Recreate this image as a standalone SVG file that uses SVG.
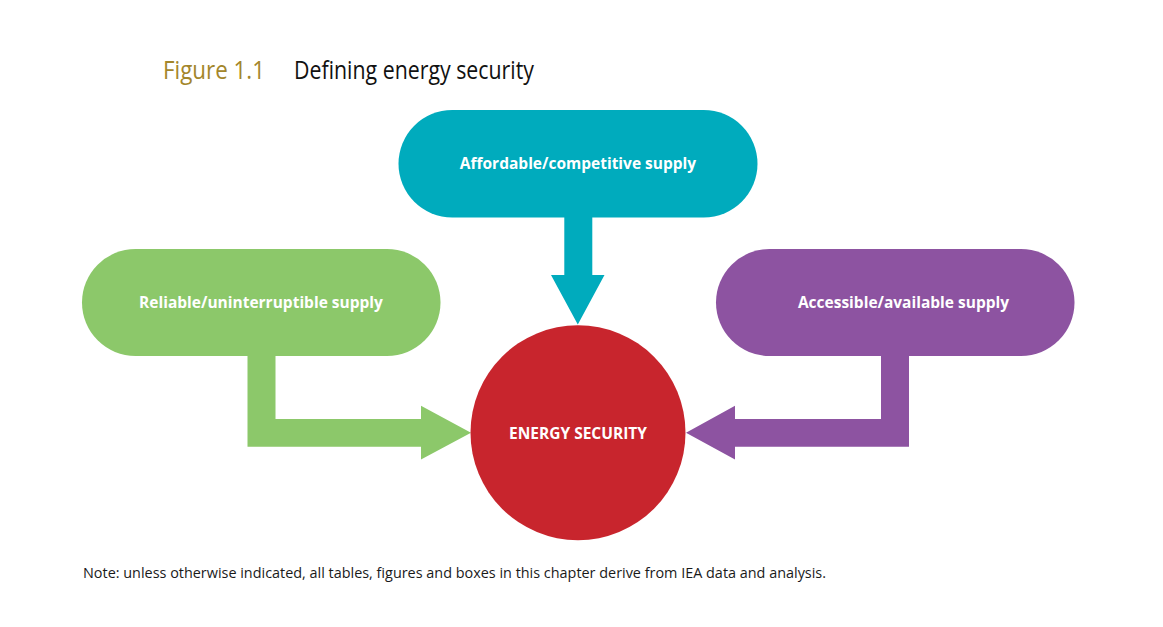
<svg xmlns="http://www.w3.org/2000/svg" width="1163" height="627" viewBox="0 0 1163 627">
<style>
.lbl{font-family:"Open Sans","Liberation Sans",sans-serif;font-weight:bold;font-size:15.5px;fill:#ffffff;text-anchor:middle;dominant-baseline:central}
.title{font-family:"Open Sans","Liberation Sans",sans-serif;font-size:25px}
.note{font-family:"Open Sans","Liberation Sans",sans-serif;font-size:14px;fill:#1a1a1a}
</style>
<rect width="1163" height="627" fill="#ffffff"/>
<text class="title" x="163" y="79" fill="#a3862b" textLength="102" lengthAdjust="spacingAndGlyphs">Figure 1.1</text>
<text class="title" x="294" y="79" fill="#111111" textLength="240" lengthAdjust="spacingAndGlyphs">Defining energy security</text>
<g id="connectors">
<path id="c-green" d="M247.5,350 H275.5 V419 H421 V405.7 L471,432.7 L421,459.5 V446.7 H247.5 Z" fill="#8cc86a"/>
<path id="c-teal" d="M564.3,210 H592.3 V275 H604.5 L577.8,324.5 L551,275 H564.3 Z" fill="#00abbd"/>
<path id="c-purple" d="M909,350 V446.7 H735 V459.5 L686,432.7 L735,405.7 V419 H881 V350 Z" fill="#8d53a1"/>
</g>
<g id="node-affordable">
<rect x="398.5" y="110" width="359" height="107.5" rx="53.75" fill="#00abbd"/>
<text class="lbl" x="578" y="163">Affordable/competitive supply</text>
</g>
<g id="node-reliable">
<rect x="82" y="249" width="358.5" height="107" rx="53.5" fill="#8cc86a"/>
<text class="lbl" x="261" y="302">Reliable/uninterruptible supply</text>
</g>
<g id="node-accessible">
<rect x="716" y="249" width="358.5" height="107" rx="53.5" fill="#8d53a1"/>
<text class="lbl" x="903.5" y="302">Accessible/available supply</text>
</g>
<g id="node-security">
<circle cx="578" cy="432.7" r="107.5" fill="#c8252d"/>
<text class="lbl" x="578" y="433">ENERGY SECURITY</text>
</g>
<text class="note" x="83" y="578" textLength="743" lengthAdjust="spacingAndGlyphs">Note: unless otherwise indicated, all tables, figures and boxes in this chapter derive from IEA data and analysis.</text>
</svg>
